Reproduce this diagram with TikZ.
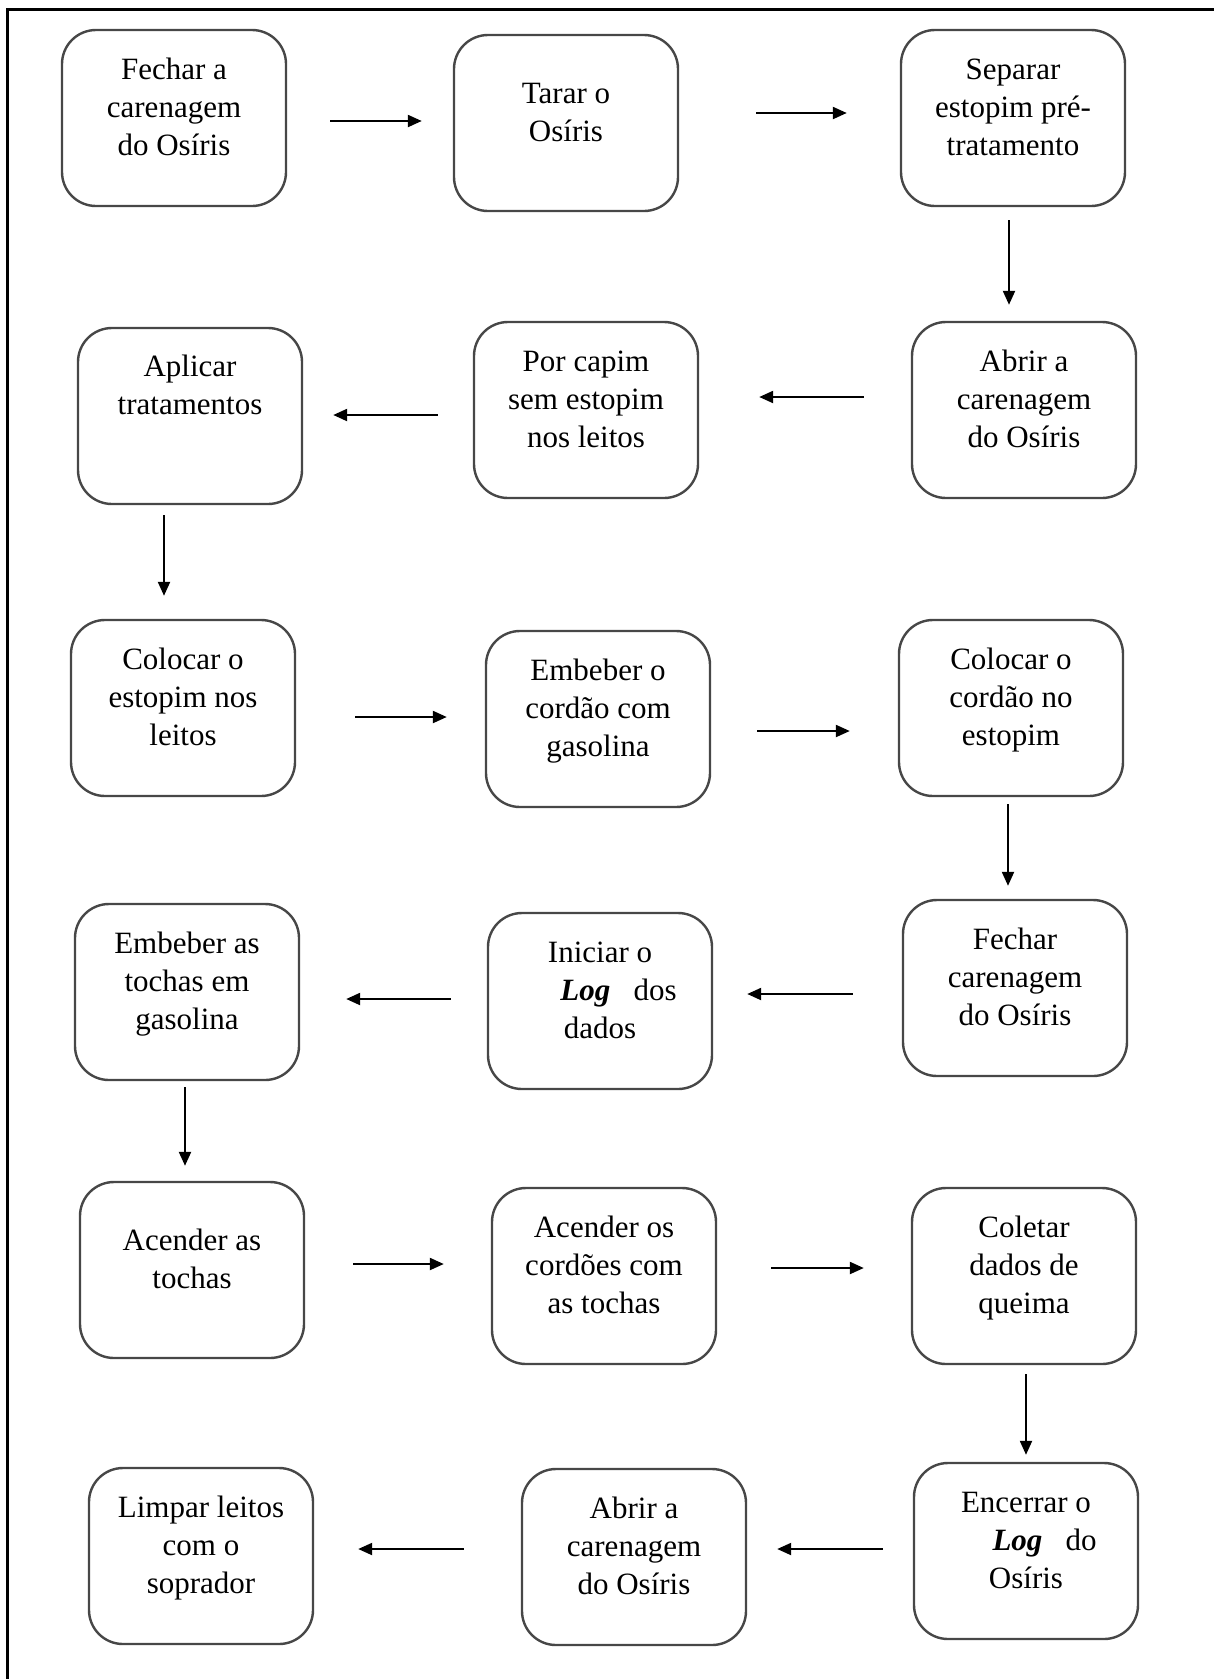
\documentclass[tikz,border=0pt]{standalone}
\usepackage{fontspec}
\setmainfont{Liberation Serif}
\usetikzlibrary{arrows.meta,calc}

\begin{document}
\begin{tikzpicture}[
    x=1pt, y=-1pt,
    font=\fontsize{31}{38}\selectfont,
    stepbox/.style={draw=black!72, rounded corners=34pt, minimum width=224pt, minimum height=176pt, inner sep=0pt, align=center, text depth=22pt, line width=2.4pt},
    flow/.style={-{Triangle[length=14pt, width=12pt]}, line width=2.2pt}
]
\useasboundingbox (0,0) rectangle (1214,1679);
\draw[line width=3pt] (7,1679) -- (7,9) -- (1214,9);

% row 1
\node[stepbox] (p1) at (174,118) {Fechar a\\carenagem\\do Osíris};
\node[stepbox] (p2) at (566,123) {Tarar o\\Osíris};
\node[stepbox] (p3) at (1013,118) {Separar\\estopim pré-\\tratamento};
% row 2
\node[stepbox] (p4) at (1024,410) {Abrir a\\carenagem\\do Osíris};
\node[stepbox] (p5) at (586,410) {Por capim\\sem estopim\\nos leitos};
\node[stepbox, text depth=63pt] (p6) at (190,416) {Aplicar\\tratamentos};
% row 3
\node[stepbox] (p7) at (183,708) {Colocar o\\estopim nos\\leitos};
\node[stepbox] (p8) at (598,719) {Embeber o\\cordão com\\gasolina};
\node[stepbox] (p9) at (1011,708) {Colocar o\\cordão no\\estopim};
% row 4
\node[stepbox] (p10) at (1015,988) {Fechar\\carenagem\\do Osíris};
\node[stepbox] (p11) at (600,1001) {Iniciar o\\\hspace*{1.2em}\textbf{\textit{Log}}\hspace{0.5em} dos\\dados};
\node[stepbox] (p12) at (187,992) {Embeber as\\tochas em\\gasolina};
% row 5
\node[stepbox] (p13) at (192,1270) {Acender as\\tochas};
\node[stepbox] (p14) at (604,1276) {Acender os\\cordões com\\as tochas};
\node[stepbox] (p15) at (1024,1276) {Coletar\\dados de\\queima};
% row 6
\node[stepbox] (p16) at (1026,1551) {Encerrar o\\\hspace*{1.2em}\textbf{\textit{Log}}\hspace{0.5em} do\\Osíris};
\node[stepbox] (p17) at (634,1557) {Abrir a\\carenagem\\do Osíris};
\node[stepbox] (p18) at (201,1556) {Limpar leitos\\com o\\soprador};

% arrows to the right
\foreach \i/\j/\dy/\sa/\sb in {p1/p2/3/43/31, p2/p3/-10/77/53, p7/p8/9/59/38, p8/p9/12/46/48, p13/p14/-6/48/47, p14/p15/-8/54/47} {
  \coordinate (h) at ($(\i.east)+(0,\dy)$);
  \draw[flow, shorten <=\sa pt, shorten >=\sb pt] (h) -- (h -| \j.west);
}
% arrows to the left
\foreach \i/\j/\dy/\sa/\sb in {p4/p5/-13/47/60, p5/p6/5/35/30, p10/p11/6/49/34, p11/p12/-2/36/46, p16/p17/-2/30/30, p17/p18/-8/57/44} {
  \coordinate (h) at ($(\i.west)+(0,\dy)$);
  \draw[flow, shorten <=\sa pt, shorten >=\sb pt] (h) -- (h -| \j.east);
}
% arrows down
\foreach \i/\j/\dx/\sa/\sb in {p3/p4/-4/13/16, p6/p7/-26/10/23, p9/p10/-3/7/13, p12/p13/-2/6/15, p15/p16/2/9/7} {
  \coordinate (v) at ($(\i.south)+(\dx,0)$);
  \draw[flow, shorten <=\sa pt, shorten >=\sb pt] (v) -- (v |- \j.north);
}
\end{tikzpicture}
\end{document}
